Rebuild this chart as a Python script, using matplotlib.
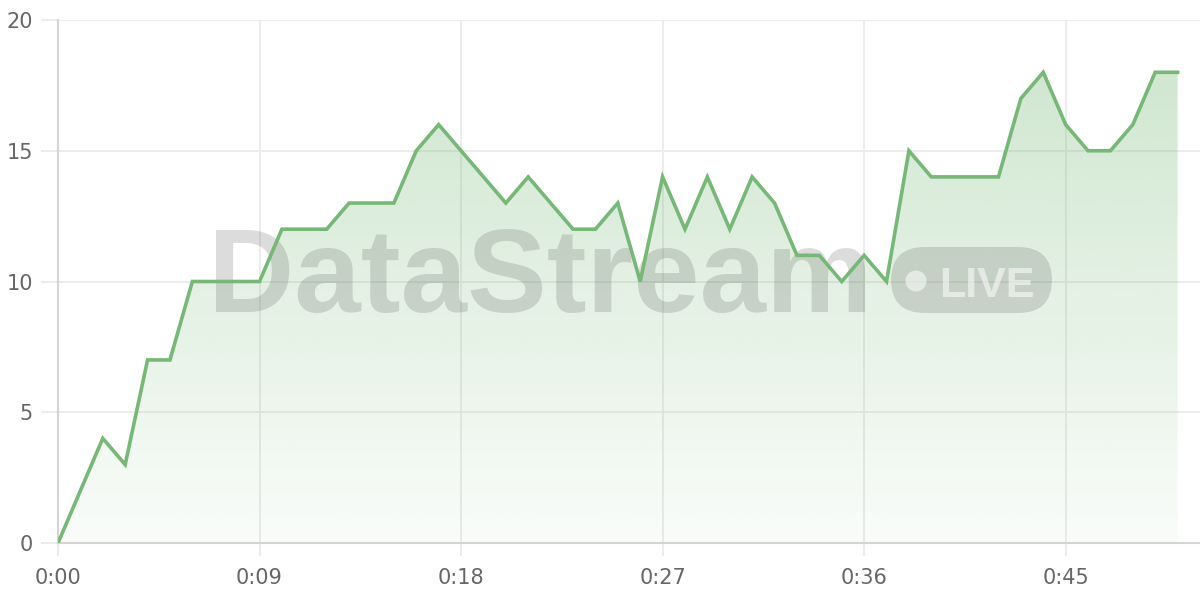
import matplotlib
matplotlib.use("Agg")
import matplotlib.pyplot as plt
import numpy as np
from matplotlib.patches import FancyBboxPatch, Ellipse, Polygon
from matplotlib.ticker import FuncFormatter

seconds = list(range(0, 51))
values = [0, 2, 4, 3, 7, 7, 10, 10, 10, 10,
          12, 12, 12, 13, 13, 13, 15, 16, 15, 14,
          13, 14, 13, 12, 12, 13, 10, 14, 12, 14,
          12, 14, 13, 11, 11, 10, 11, 10, 15, 14,
          14, 14, 14, 17, 18, 16, 15, 15, 16, 18, 18]
x_ticks = [0, 9, 18, 27, 36, 45]
y_ticks = [0, 5, 10, 15, 20]

LINE = "#76b876"
GRID = "#ebebeb"
AXIS = "#d4d4d4"
TXT = "#666666"

plt.rcParams['font.family'] = ['DejaVu Sans']

fig = plt.figure(figsize=(12, 6), dpi=100)
ax = fig.add_axes([58/1200, 57/600, 1142/1200, 523/600])

# gradient fill
x = np.array(seconds, dtype=float)
y = np.array(values, dtype=float)
verts = np.column_stack([np.concatenate([x, [x[-1], x[0]]]),
                         np.concatenate([y, [0, 0]])])
poly = Polygon(verts, closed=True, facecolor='none', edgecolor='none')
ax.add_patch(poly)
grad = np.linspace(0.04, 0.34, 256).reshape(-1, 1)
rgba = np.zeros((256, 1, 4))
rgba[..., 0] = 118/255
rgba[..., 1] = 184/255
rgba[..., 2] = 118/255
rgba[..., 3] = grad
im = ax.imshow(rgba, extent=[0, x[-1], 0, 18], origin='lower', aspect='auto', zorder=1)
im.set_clip_path(poly)
ax.set_xlim(0, 51)
ax.set_ylim(0, 20)

ax.plot(x, y, color=LINE, lw=2.6, zorder=5, solid_joinstyle='miter')

# grid & axes
ax.set_xticks(x_ticks)
ax.set_yticks(y_ticks)
ax.xaxis.set_major_formatter(FuncFormatter(lambda v, p: f"{int(v)//60}:{int(v)%60:02d}"))
ax.grid(True, color=GRID, lw=1.3, zorder=0)
ax.set_axisbelow(True)
for s in ['top', 'right']:
    ax.spines[s].set_visible(False)
for s in ['left', 'bottom']:
    ax.spines[s].set_color(AXIS)
    ax.spines[s].set_linewidth(1.5)
ax.tick_params(axis='x', length=9, width=1.3, color=GRID, pad=9, labelsize=15, labelcolor=TXT)
ax.tick_params(axis='y', length=12, width=1.3, color=GRID, pad=6, labelsize=15, labelcolor=TXT)

# watermark (inside axes so the line stays on top)
wm = (0.33, 0.33, 0.33, 0.2)
ax.text(208/1200, (600-312)/600, "DataStream", fontsize=86, fontweight='bold',
        family='Liberation Sans', color=wm, ha='left', va='baseline', zorder=3,
        transform=fig.transFigure, clip_on=False)
box = FancyBboxPatch((891/1200, (600-313)/600), 161/1200, 66/600,
                     boxstyle="round,pad=0,rounding_size=0.028",
                     transform=fig.transFigure, facecolor=wm, edgecolor='none',
                     mutation_aspect=2.0, zorder=3, clip_on=False)
ax.add_artist(box)
ax.add_artist(Ellipse((916/1200, (600-281)/600), 21/1200, 21/600, transform=fig.transFigure,
                      facecolor=(1, 1, 1, 0.55), edgecolor='none', zorder=4, clip_on=False))
ax.text(939/1200, (600-297)/600, "LIVE", fontsize=31, fontweight='bold', color=(1, 1, 1, 0.55),
        family='Liberation Sans', ha='left', va='baseline', zorder=4,
        transform=fig.transFigure, clip_on=False)

fig.savefig("out.png", dpi=100, facecolor='white')
